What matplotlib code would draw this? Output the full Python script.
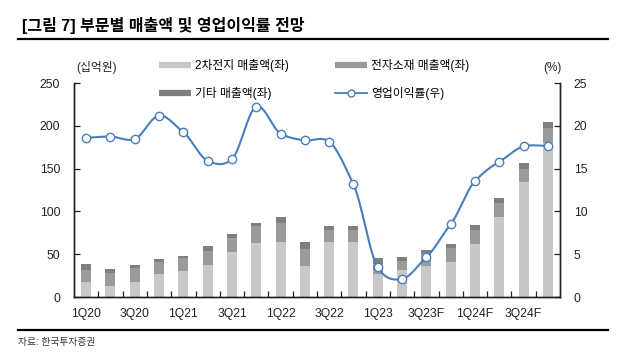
import matplotlib
matplotlib.use('Agg')
import matplotlib.pyplot as plt
from matplotlib.lines import Line2D
import numpy as np

plt.rcParams['font.family'] = ['Liberation Sans', 'Noto Sans CJK KR']

quarters = ['1Q20', '2Q20', '3Q20', '4Q20', '1Q21', '2Q21', '3Q21', '4Q21',
            '1Q22', '2Q22', '3Q22', '4Q22', '1Q23', '2Q23', '3Q23F', '4Q23F',
            '1Q24F', '2Q24F', '3Q24F', '4Q24F']
battery = [17, 13, 17, 27, 30, 37, 53, 63, 64, 36, 64, 64, 27, 31, 36, 41, 62, 94, 134, 180]
electronic = [15, 14.5, 16.5, 14, 15.5, 17, 16, 20, 23, 20.5, 14.5, 14, 12, 11.5, 15, 16, 16, 15.5, 16, 18]
other = [6, 5.5, 3.5, 3, 2.7, 6, 4.5, 4, 6, 8, 5, 5, 7, 4, 4, 5, 6.5, 6.5, 7, 6.5]
margin = [18.6, 18.75, 18.45, 21.2, 19.25, 15.9, 16.1, 22.25, 19.1, 18.3,
          18.15, 13.15, 3.45, 2.1, 4.65, 8.5, 13.55, 15.8, 17.6, 17.65]

c_bat = '#c8c8c8'
c_ele = '#9a9a9a'
c_oth = '#7f7f7f'
c_line = '#4a7ebb'


def smooth_line(y, n=24, k=0.8):
    # cardinal spline through the points, like the spreadsheet "smooth line"
    y = np.asarray(y, dtype=float)
    p = np.concatenate([[2 * y[0] - y[1]], y, [2 * y[-1] - y[-2]]])
    m = k * (p[2:] - p[:-2]) / 2
    xs, ys = [], []
    t = np.linspace(0, 1, n, endpoint=False)
    h00 = 2 * t ** 3 - 3 * t ** 2 + 1
    h10 = t ** 3 - 2 * t ** 2 + t
    h01 = -2 * t ** 3 + 3 * t ** 2
    h11 = t ** 3 - t ** 2
    for i in range(len(y) - 1):
        v = h00 * y[i] + h10 * m[i] + h01 * y[i + 1] + h11 * m[i + 1]
        xs.extend(i + t)
        ys.extend(v)
    xs.append(len(y) - 1)
    ys.append(y[-1])
    return np.array(xs), np.array(ys)


fig = plt.figure(figsize=(6.3, 3.58), dpi=100)
ax = fig.add_axes([74 / 630, 1 - 297 / 358, 486 / 630, 214 / 358])
ax2 = ax.twinx()

x = np.arange(len(quarters))
w = 0.41
b1 = np.array(battery)
b2 = np.array(electronic)
b3 = np.array(other)
ax.bar(x, b1, w, color=c_bat, zorder=2)
ax.bar(x, b2, w, bottom=b1, color=c_ele, zorder=2)
ax.bar(x, b3, w, bottom=b1 + b2, color=c_oth, zorder=2)

sx, sy = smooth_line(margin)
ax2.plot(sx, sy, color=c_line, lw=1.5, zorder=3)
ax2.plot(x, margin, 'o', ms=6, mfc='white', mec=c_line, mew=1.0, zorder=4)

ax.set_xlim(-0.5, 19.5)
ax.set_ylim(0, 250)
ax2.set_ylim(0, 25)
ax.set_yticks(np.arange(0, 251, 50))
ax2.set_yticks(np.arange(0, 26, 5))
ax.set_xticks(x)
ax.set_xticklabels([q if i % 2 == 0 else '' for i, q in enumerate(quarters)])
ax.set_xticks(np.arange(0.5, 19, 1), minor=True)

for a in (ax, ax2):
    a.spines['top'].set_visible(False)
    for s in a.spines.values():
        s.set_linewidth(1.0)
        s.set_color('#222222')
ax.tick_params(axis='both', which='both', direction='in', length=4, width=0.9,
               labelsize=8.7, colors='#222222')
ax.tick_params(axis='x', which='both', pad=8)
ax.tick_params(axis='y', pad=10)
ax2.tick_params(axis='y', direction='in', length=4, width=0.9, labelsize=8.7,
                colors='#222222', pad=10)

handles = [Line2D([], [], color=c_bat, lw=4.5, solid_capstyle='butt'),
           Line2D([], [], color=c_oth, lw=4.5, solid_capstyle='butt'),
           Line2D([], [], color=c_ele, lw=4.5, solid_capstyle='butt'),
           Line2D([], [], color=c_line, lw=1.3, marker='o', ms=5, mfc='white', mec=c_line)]
labels = ['2차전지 매출액(좌)', '기타 매출액(좌)', '전자소재 매출액(좌)', '영업이익률(우)']
fig.legend(handles, labels, ncol=2, loc='upper left', bbox_to_anchor=(159 / 630, 1 - 59 / 358),
           frameon=False, fontsize=8.5, handlelength=2.7, handletextpad=0.35,
           columnspacing=3.9, labelspacing=1.25, borderpad=0, borderaxespad=0)

fig.text(97 / 630, 1 - 68 / 358, '(십억원)', ha='center', va='center', fontsize=8.5, color='#222222')
fig.text(552 / 630, 1 - 68 / 358, '(%)', ha='center', va='center', fontsize=8.5, color='#222222')

fig.text(22 / 630, 1 - 25 / 358, '[그림 7] 부문별 매출액 및 영업이익률 전망', ha='left', va='center',
         fontsize=11.5, fontweight='bold', color='black')
fig.add_artist(Line2D([18 / 630, 608 / 630], [1 - 38.7 / 358, 1 - 38.7 / 358], color='black', lw=1.6))
fig.add_artist(Line2D([18 / 630, 608 / 630], [1 - 330 / 358, 1 - 330 / 358], color='black', lw=1.6))
fig.text(18 / 630, 1 - 342 / 358, '자료: 한국투자증권', ha='left', va='center', fontsize=7, color='#333333')

fig.savefig('out.png', dpi=100)
